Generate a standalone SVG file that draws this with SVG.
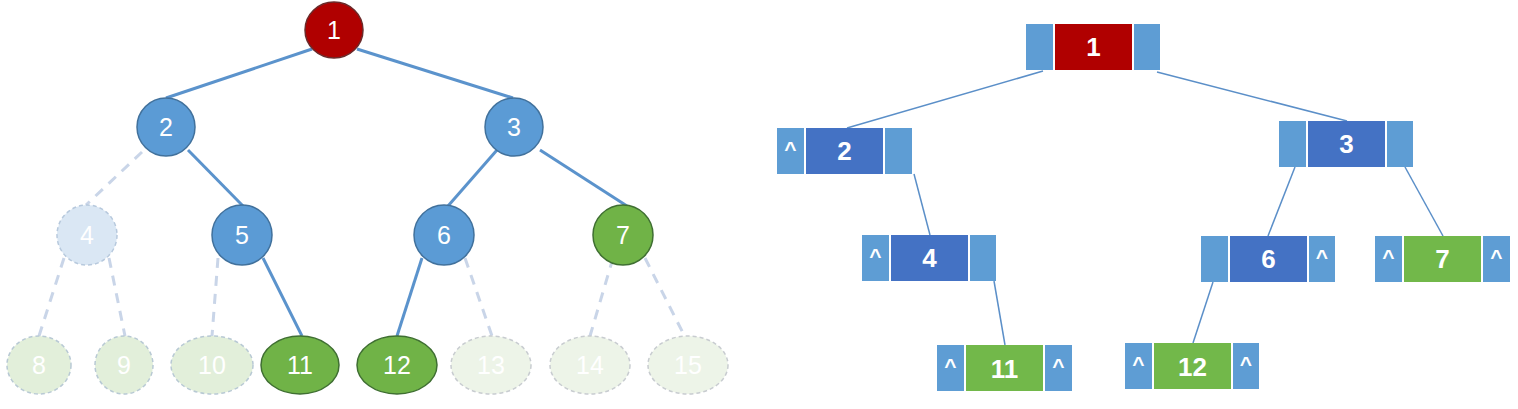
<svg xmlns="http://www.w3.org/2000/svg" width="1518" height="409" viewBox="0 0 1518 409">
<style>
.lt{font-family:"Liberation Sans",Arial,sans-serif;font-size:25px;fill:#fff;text-anchor:middle}
.rt{font-family:"Liberation Sans",Arial,sans-serif;font-size:26px;font-weight:bold;fill:#fff;text-anchor:middle}
.ct{font-family:"Liberation Sans",Arial,sans-serif;font-size:21px;font-weight:bold;fill:#fff;text-anchor:middle}
.red{fill:#b00000;stroke:#6b2a2a;stroke-width:1.5}
.blue{fill:#5b9bd5;stroke:#41719c;stroke-width:1.5}
.green{fill:#70b347;stroke:#3f6f32;stroke-width:1.5}
.ghostb{fill:#dae7f4;stroke:#b7c9dd;stroke-width:1.5;stroke-dasharray:4 3}
.ghostg{fill:#e2efda;stroke:#b8c9d4;stroke-width:1.5;stroke-dasharray:4 3}
.ghostg2{fill:#edf4e8;stroke:#c8ccd0;stroke-width:1.5;stroke-dasharray:4 3}
.solid{stroke:#5b93cc;stroke-width:3;fill:none}
.dash{stroke:#c9d5e8;stroke-width:3;fill:none;stroke-dasharray:10 8}
.thin{stroke:#5b8fc8;stroke-width:1.5;fill:none}
.side{fill:#5e9dd4}
.mb{fill:#4472c4}
.mr{fill:#b00000}
.mg{fill:#72b84a}
</style>
<g id="connectors">
<line class="solid" x1="312" y1="49" x2="166" y2="98"/>
<line class="solid" x1="357" y1="49" x2="513" y2="98"/>
<line class="solid" x1="188" y1="150" x2="243" y2="206"/>
<line class="dash" x1="142" y1="152" x2="86" y2="205"/>
<line class="solid" x1="497" y1="150" x2="448" y2="206"/>
<line class="solid" x1="540" y1="150" x2="627" y2="206"/>
<line class="dash" x1="64" y1="258" x2="39" y2="336"/>
<line class="dash" x1="109" y1="258" x2="125" y2="336"/>
<line class="dash" x1="218" y1="258" x2="212" y2="336"/>
<line class="solid" x1="263" y1="258" x2="302" y2="336"/>
<line class="solid" x1="422" y1="258" x2="397" y2="336"/>
<line class="dash" x1="465" y1="258" x2="492" y2="336"/>
<line class="dash" x1="613" y1="258" x2="590" y2="336"/>
<line class="dash" x1="645" y1="258" x2="683" y2="333"/>
<line class="thin" x1="1043" y1="71" x2="847" y2="128"/>
<line class="thin" x1="1157" y1="72" x2="1347" y2="121"/>
<line class="thin" x1="914" y1="174" x2="930" y2="235"/>
<line class="thin" x1="994" y1="281" x2="1005" y2="345"/>
<line class="thin" x1="1295" y1="167" x2="1268" y2="236"/>
<line class="thin" x1="1405" y1="167" x2="1443" y2="236"/>
<line class="thin" x1="1213" y1="282" x2="1193" y2="343"/>
</g>
<g id="t1"><ellipse class="red" cx="334" cy="30" rx="29" ry="28"/><text class="lt" x="334" y="39">1</text></g>
<g id="t2"><ellipse class="blue" cx="166" cy="127" rx="29" ry="29"/><text class="lt" x="166" y="136">2</text></g>
<g id="t3"><ellipse class="blue" cx="514" cy="127" rx="29" ry="29"/><text class="lt" x="514" y="136">3</text></g>
<g id="t4"><ellipse class="ghostb" cx="87" cy="235" rx="30" ry="30"/><text class="lt" x="87" y="244">4</text></g>
<g id="t5"><ellipse class="blue" cx="242" cy="235" rx="30" ry="30"/><text class="lt" x="242" y="244">5</text></g>
<g id="t6"><ellipse class="blue" cx="444" cy="235" rx="30" ry="30"/><text class="lt" x="444" y="244">6</text></g>
<g id="t7"><ellipse class="green" cx="623" cy="235" rx="30" ry="30"/><text class="lt" x="623" y="244">7</text></g>
<g id="t8"><ellipse class="ghostg" cx="39" cy="365" rx="32" ry="29"/><text class="lt" x="39" y="374">8</text></g>
<g id="t9"><ellipse class="ghostg" cx="124" cy="365" rx="29" ry="29"/><text class="lt" x="124" y="374">9</text></g>
<g id="t10"><ellipse class="ghostg" cx="212" cy="365" rx="41" ry="29"/><text class="lt" x="212" y="374">10</text></g>
<g id="t11"><ellipse class="green" cx="300" cy="365" rx="39" ry="29"/><text class="lt" x="300" y="374">11</text></g>
<g id="t12"><ellipse class="green" cx="397" cy="365" rx="40" ry="29"/><text class="lt" x="397" y="374">12</text></g>
<g id="t13"><ellipse class="ghostg2" cx="491" cy="365" rx="40" ry="29"/><text class="lt" x="491" y="374">13</text></g>
<g id="t14"><ellipse class="ghostg2" cx="590" cy="365" rx="40" ry="29"/><text class="lt" x="590" y="374">14</text></g>
<g id="t15"><ellipse class="ghostg2" cx="688" cy="365" rx="40" ry="29"/><text class="lt" x="688" y="374">15</text></g>

<g id="r1" transform="translate(1026,24)"><rect class="side" x="0" y="0" width="27" height="46"/><rect class="mr" x="29" y="0" width="77" height="46"/><rect class="side" x="108" y="0" width="26" height="46"/><text class="rt" x="67.5" y="32">1</text></g>
<g id="r2" transform="translate(777,128)"><rect class="side" x="0" y="0" width="27" height="46"/><rect class="mb" x="29" y="0" width="77" height="46"/><rect class="side" x="108" y="0" width="27" height="46"/><text class="ct" x="13.5" y="28">^</text><text class="rt" x="67.5" y="32">2</text></g>
<g id="r3" transform="translate(1279,121)"><rect class="side" x="0" y="0" width="27" height="46"/><rect class="mb" x="29" y="0" width="77" height="46"/><rect class="side" x="108" y="0" width="26" height="46"/><text class="rt" x="67.5" y="32">3</text></g>
<g id="r4" transform="translate(862,235)"><rect class="side" x="0" y="0" width="27" height="46"/><rect class="mb" x="29" y="0" width="77" height="46"/><rect class="side" x="108" y="0" width="26" height="46"/><text class="ct" x="13.5" y="28">^</text><text class="rt" x="67.5" y="32">4</text></g>
<g id="r6" transform="translate(1201,236)"><rect class="side" x="0" y="0" width="27" height="46"/><rect class="mb" x="29" y="0" width="77" height="46"/><rect class="side" x="108" y="0" width="26" height="46"/><text class="rt" x="67.5" y="32">6</text><text class="ct" x="121" y="28">^</text></g>
<g id="r7" transform="translate(1375,236)"><rect class="side" x="0" y="0" width="27" height="46"/><rect class="mg" x="29" y="0" width="77" height="46"/><rect class="side" x="108" y="0" width="27" height="46"/><text class="ct" x="13.5" y="28">^</text><text class="rt" x="67.5" y="32">7</text><text class="ct" x="121.5" y="28">^</text></g>
<g id="r11" transform="translate(937,345)"><rect class="side" x="0" y="0" width="27" height="46"/><rect class="mg" x="29" y="0" width="77" height="46"/><rect class="side" x="108" y="0" width="27" height="46"/><text class="ct" x="13.5" y="28">^</text><text class="rt" x="67.5" y="33">11</text><text class="ct" x="121.5" y="28">^</text></g>
<g id="r12" transform="translate(1125,343)"><rect class="side" x="0" y="0" width="27" height="46"/><rect class="mg" x="29" y="0" width="77" height="46"/><rect class="side" x="108" y="0" width="26" height="46"/><text class="ct" x="13.5" y="28">^</text><text class="rt" x="67.5" y="33">12</text><text class="ct" x="121" y="28">^</text></g>
</svg>
